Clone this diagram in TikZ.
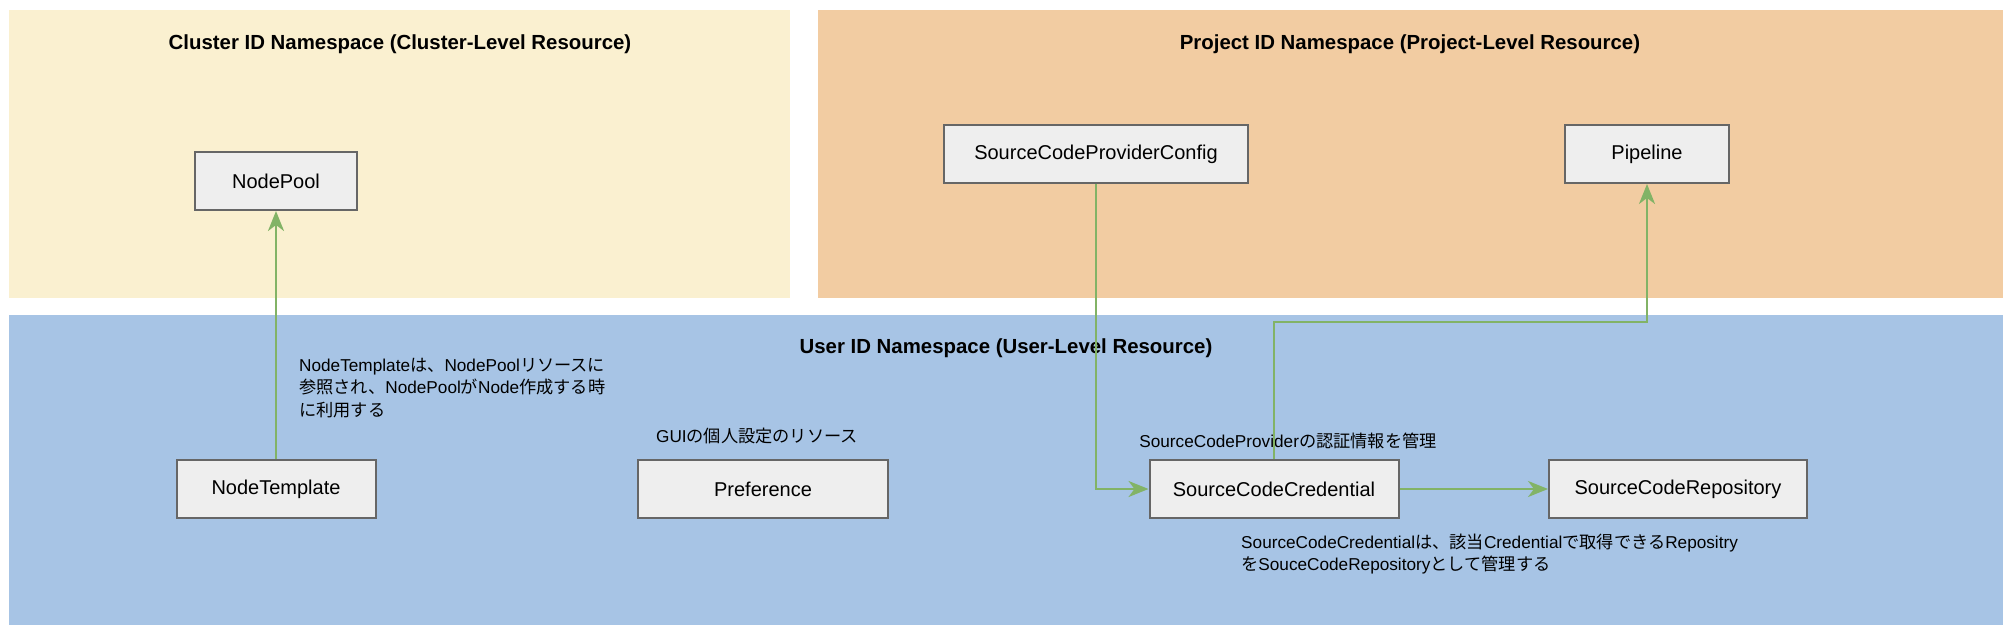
\documentclass[tikz,border=0pt]{standalone}
\usepackage{fontspec}
\setmainfont{Liberation Sans}
\newfontfamily\jp{Noto Sans CJK JP}
\usetikzlibrary{arrows.meta}
\definecolor{clusterfill}{HTML}{FAF0D0}
\definecolor{projectfill}{HTML}{F2CCA2}
\definecolor{userfill}{HTML}{A7C4E5}
\definecolor{boxfill}{HTML}{EEEEEE}
\definecolor{boxline}{HTML}{666666}
\definecolor{arrgreen}{HTML}{82B366}
\tikzset{
  res/.style={draw=boxline, line width=2pt, fill=boxfill, minimum height=58pt,
    inner sep=0pt, font=\fontsize{20}{24}\selectfont},
  title/.style={font=\fontsize{20.4}{24}\selectfont\bfseries, inner sep=0pt},
  note/.style={font=\fontsize{17.2}{22.5}\selectfont, inner sep=0pt, align=left},
  arr/.style={draw=arrgreen, line width=2.4pt,
    -{Stealth[length=20pt, width=16pt, inset=6pt]}},
}
\begin{document}
\begin{tikzpicture}[x=1pt, y=-1pt]
\useasboundingbox (0,0) rectangle (2012,636);
\fill[white] (0,0) rectangle (2012,636);
% namespaces
\fill[clusterfill] (9,10) rectangle (790,298);
\fill[projectfill] (818,10) rectangle (2003,298);
\fill[userfill] (9,315) rectangle (2003,625);
\node[title] (tcluster) at (400,44) {Cluster ID Namespace (Cluster-Level Resource)};
\node[title] (tproject) at (1410,44) {Project ID Namespace (Project-Level Resource)};
\node[title] (tuser) at (1006,348) {User ID Namespace (User-Level Resource)};
% resources
\node[res, minimum width=162pt] (np) at (276,181) {NodePool};
\node[res, minimum width=304pt] (scpc) at (1096,154) {SourceCodeProviderConfig};
\node[res, minimum width=164pt] (pipe) at (1647,154) {Pipeline};
\node[res, minimum width=199pt] (nt) at (276,489) {NodeTemplate};
\node[res, minimum width=250pt] (pref) at (763,489) {Preference};
\node[res, minimum width=249pt] (scc) at (1274,489) {SourceCodeCredential};
\node[res, minimum width=258pt] (scr) at (1678,489) {SourceCodeRepository};
% notes
\node[note, anchor=west] (n1) at (299,388) {NodeTemplate{\jp は、}NodePool{\jp リソースに}\\{\jp 参照され、}NodePool{\jp が}Node{\jp 作成する時}\\{\jp に利用する}};
\node[note] (n2) at (757,436) {GUI{\jp の個人設定のリソース}};
\node[note] (n3) at (1288,441) {SourceCodeProvider{\jp の認証情報を管理}};
\node[note, anchor=west] (n4) at (1241,554) {SourceCodeCredential{\jp は、該当}Credential{\jp で取得できる}Repositry\\{\jp を}SouceCodeRepository{\jp として管理する}};
% connectors
\coordinate (bend) at (1274,322);
\draw[arr] (nt.north) -- (np.south);
\draw[arr] (scpc.south) |- (scc.west);
\draw[arr] (scc.north) -- (bend) -| (pipe.south);
\draw[arr] (scc.east) -- (scr.west);
\end{tikzpicture}
\end{document}
